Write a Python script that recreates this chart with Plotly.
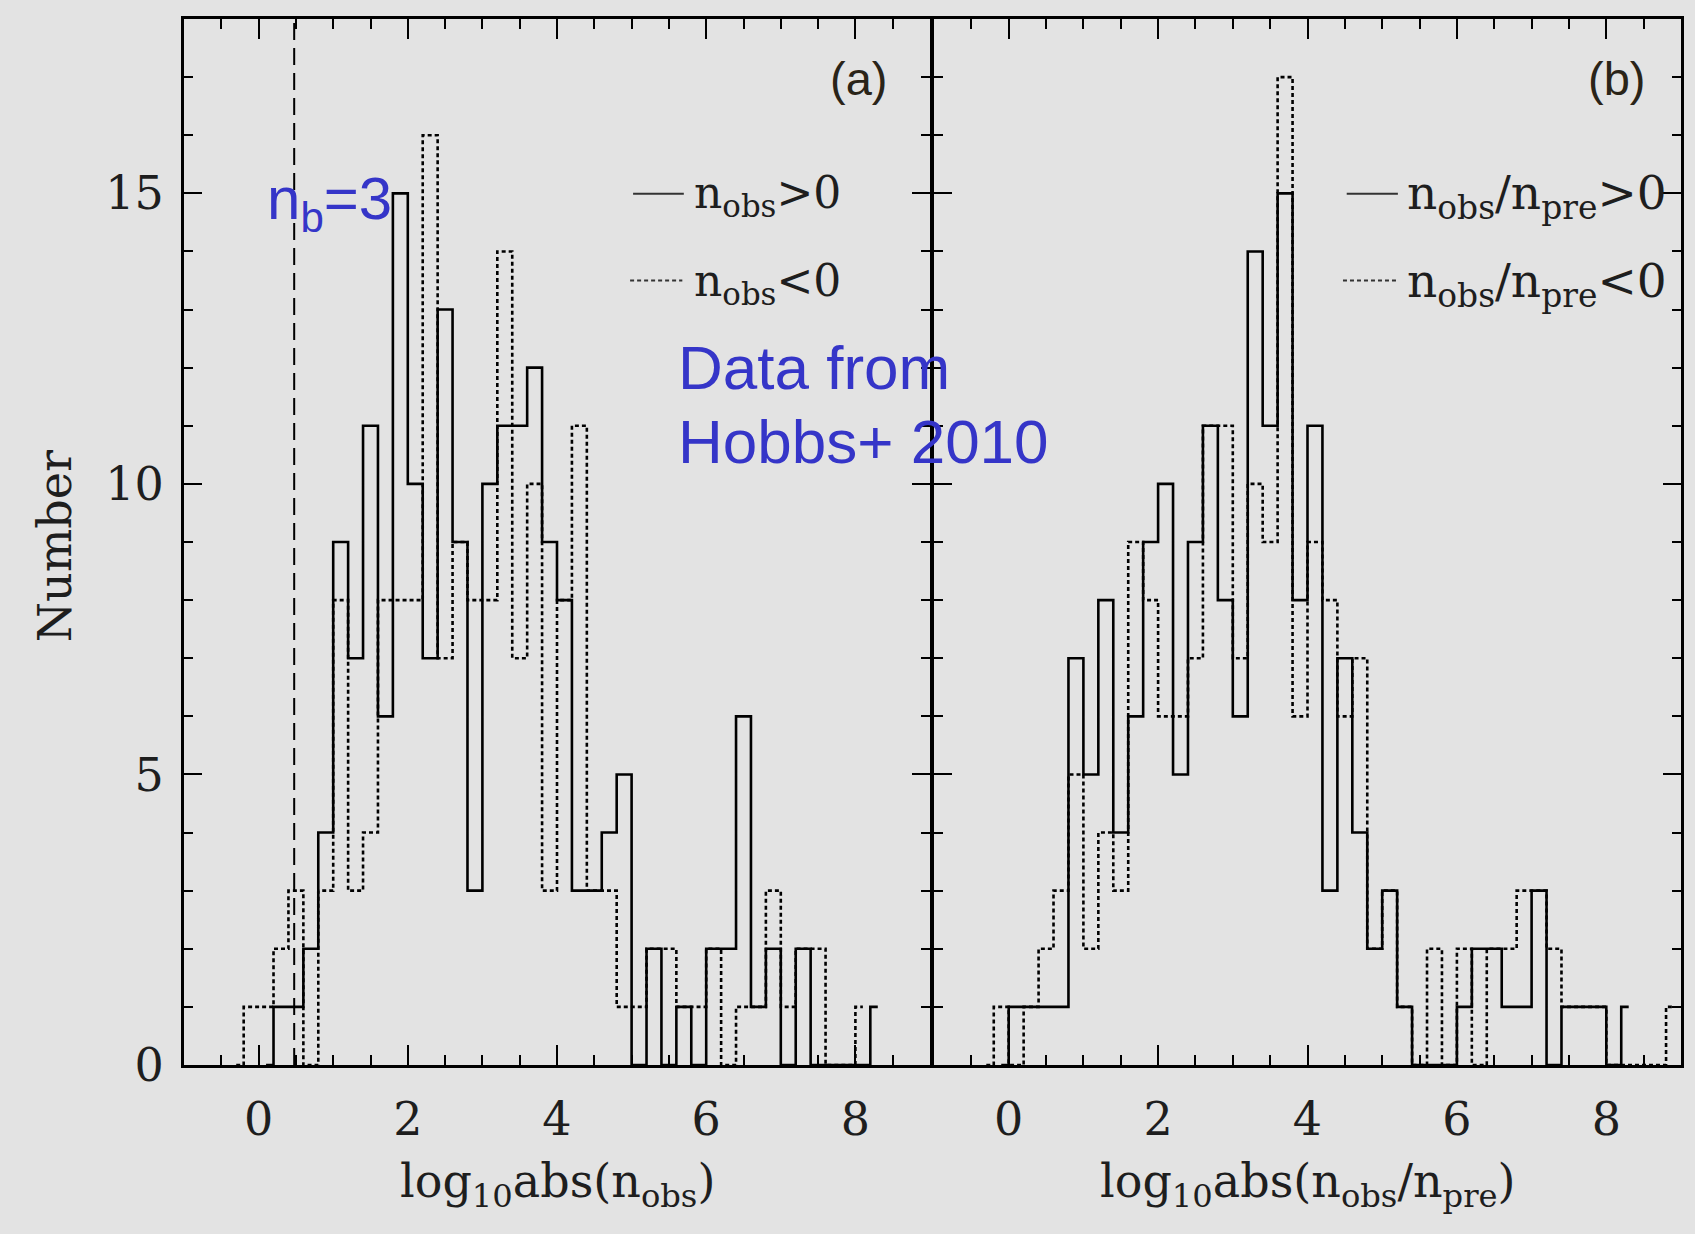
import numpy as np
import plotly.graph_objects as go

# ---------------- data ----------------
BIN_WIDTH = 0.2

# panel (a): log10 abs(n_obs)
a_pos_first_center = 0.1
a_pos_counts = [0, 1, 1, 2, 4, 9, 7, 11, 6, 15,
                10, 7, 13, 9, 3, 10, 11, 11, 12, 9,
                8, 3, 3, 4, 5, 0, 2, 0, 1, 0,
                2, 2, 6, 1, 2, 0, 2, 0, 0, 0,
                0, 1]
a_neg_first_center = -0.3
a_neg_counts = [0, 1, 1, 2, 3, 0, 3, 8, 3, 4,
                8, 8, 8, 16, 7, 9, 8, 8, 14, 7,
                10, 3, 8, 11, 3, 3, 1, 1, 2, 2,
                1, 1, 2, 0, 1, 1, 3, 1, 2, 2,
                0, 0, 1]

# panel (b): log10 abs(n_obs/n_pre)
b_pos_first_center = -0.1
b_pos_counts = [0, 1, 1, 1, 1, 7, 5, 8, 4, 6,
                9, 10, 5, 9, 11, 8, 6, 14, 11, 15,
                8, 11, 3, 7, 4, 2, 3, 1, 0, 0,
                0, 1, 2, 2, 1, 1, 3, 0, 1, 1,
                1, 0, 1]
b_neg_first_center = -0.3
b_neg_counts = [0, 1, 0, 1, 2, 3, 5, 2, 4, 3,
                9, 8, 6, 6, 7, 11, 11, 7, 10, 9,
                17, 6, 9, 8, 6, 7, 2, 3, 1, 0,
                2, 0, 2, 0, 2, 2, 3, 3, 2, 1,
                1, 1, 0, 0, 0, 0, 1]

N_B = 3                      # n_b = 3 threshold (dashed line at log10 3)
X_RANGE = [-1, 9]
Y_RANGE = [0, 18]
X_TICKS = [0, 2, 4, 6, 8]
Y_TICKS = [0, 5, 10, 15]


def centers(first, counts):
    return np.round(first + BIN_WIDTH * np.arange(len(counts)), 3)


# ---------------- figure ----------------
W, H = 1695, 1234
L, R, T, B = 184, 14, 19, 169
PW = W - L - R
dom_a = [0, 746 / PW]
dom_b = [750 / PW, 1]

SERIF = "DejaVu Serif"
SANS = "Liberation Sans"
INK = "#1e1e1e"
BLUE = "#3535c8"
DOT = "4px,3px"

fig = go.Figure()

series = [
    ("x", "y", a_pos_first_center, a_pos_counts, "solid"),
    ("x", "y", a_neg_first_center, a_neg_counts, DOT),
    ("x2", "y2", b_pos_first_center, b_pos_counts, "solid"),
    ("x2", "y2", b_neg_first_center, b_neg_counts, DOT),
]
for xa, ya, first, counts, dash in series:
    fig.add_trace(go.Scatter(
        x=centers(first, counts), y=counts, mode="lines",
        line=dict(shape="hvh", color="black", width=2.6, dash=dash),
        xaxis=xa, yaxis=ya, showlegend=False, hoverinfo="skip",
    ))

axis_common = dict(
    range=X_RANGE, tickmode="array", tickvals=X_TICKS,
    ticks="inside", ticklen=20, tickwidth=2, tickcolor="black",
    showline=True, linewidth=3, linecolor="black", mirror="allticks",
    showgrid=False, zeroline=False,
    minor=dict(dtick=0.5, tick0=0, ticks="inside", ticklen=10,
               tickwidth=2, tickcolor="black", showgrid=False),
    tickfont=dict(family=SERIF, size=46, color=INK),
    ticklabelstandoff=12,
)
yaxis_common = dict(
    range=Y_RANGE, tickmode="array", tickvals=Y_TICKS,
    ticks="inside", ticklen=18, tickwidth=2, tickcolor="black",
    showline=True, linewidth=3, linecolor="black", mirror="allticks",
    showgrid=False, zeroline=False,
    minor=dict(dtick=1, tick0=0, ticks="inside", ticklen=9,
               tickwidth=2, tickcolor="black", showgrid=False),
    tickfont=dict(family=SERIF, size=46, color=INK),
    ticklabelstandoff=8,
)

fig.update_layout(
    width=W, height=H,
    margin=dict(l=L, r=R, t=T, b=B),
    paper_bgcolor="#e3e3e3", plot_bgcolor="#e3e3e3",
    showlegend=False,
    xaxis=dict(axis_common, domain=dom_a, anchor="y"),
    xaxis2=dict(axis_common, domain=dom_b, anchor="y2"),
    yaxis=dict(yaxis_common, domain=[0, 1], anchor="x"),
    yaxis2=dict(yaxis_common, domain=[0, 1], anchor="x2", showticklabels=False),
)

# n_b threshold line
fig.add_shape(type="line", xref="x", yref="y domain",
              x0=float(np.log10(N_B)), x1=float(np.log10(N_B)), y0=0, y1=1,
              line=dict(color="black", width=2, dash="17px,8px"))

# legend samples
leg = [
    ("x domain", "y domain", 0.602, 0.670, 0.833, "solid"),
    ("x domain", "y domain", 0.598, 0.668, 0.750, DOT),
    ("x2 domain", "y2 domain", 0.5525, 0.621, 0.833, "solid"),
    ("x2 domain", "y2 domain", 0.5475, 0.620, 0.750, DOT),
]
for xr, yr, x0, x1, yy, dash in leg:
    fig.add_shape(type="line", xref=xr, yref=yr, x0=x0, x1=x1, y0=yy, y1=yy,
                  line=dict(color="#333", width=2, dash=dash))


def ann(text, xref, yref, x, y, size, family, color=INK, xanchor="left",
        yanchor="middle", textangle=0):
    fig.add_annotation(text=text, xref=xref, yref=yref, x=x, y=y,
                       showarrow=False, xanchor=xanchor, yanchor=yanchor,
                       textangle=textangle,
                       font=dict(family=family, size=size, color=color))


# legend texts
ann("n<sub>obs</sub>&gt;0", "x domain", "y domain", 0.681, 0.831, 44, SERIF)
ann("n<sub>obs</sub>&lt;0", "x domain", "y domain", 0.681, 0.747, 44, SERIF)
ann("n<sub>obs</sub>/n<sub>pre</sub>&gt;0", "x2 domain", "y2 domain", 0.631, 0.831, 47, SERIF)
ann("n<sub>obs</sub>/n<sub>pre</sub>&lt;0", "x2 domain", "y2 domain", 0.631, 0.747, 47, SERIF)

# panel labels
ann("(a)", "x domain", "y domain", 0.9035, 0.943, 47, SANS, color="#2a2418", xanchor="center")
ann("(b)", "x2 domain", "y2 domain", 0.9140, 0.943, 47, SANS, color="#2a2418", xanchor="center")

# blue annotations
ann("n<sub>b</sub>=3", "x domain", "y domain", 0.1086, 0.824, 60, SANS, color=BLUE)
ann("Data from", "x domain", "y domain", 0.659, 0.667, 62, SANS, color=BLUE)
ann("Hobbs+ 2010", "x domain", "y domain", 0.659, 0.596, 62, SANS, color=BLUE)

# axis titles
ann("log<sub>10</sub>abs(n<sub>obs</sub>)", "x domain", "y domain", 0.5, -0.114, 46, SERIF,
    xanchor="center")
ann("log<sub>10</sub>abs(n<sub>obs</sub>/n<sub>pre</sub>)", "x2 domain", "y2 domain", 0.5, -0.114, 46,
    SERIF, xanchor="center")
ann("Number", "x domain", "y domain", -0.173, 0.496, 46, SERIF, xanchor="center",
    textangle=-90)

fig.write_html("out.html")
